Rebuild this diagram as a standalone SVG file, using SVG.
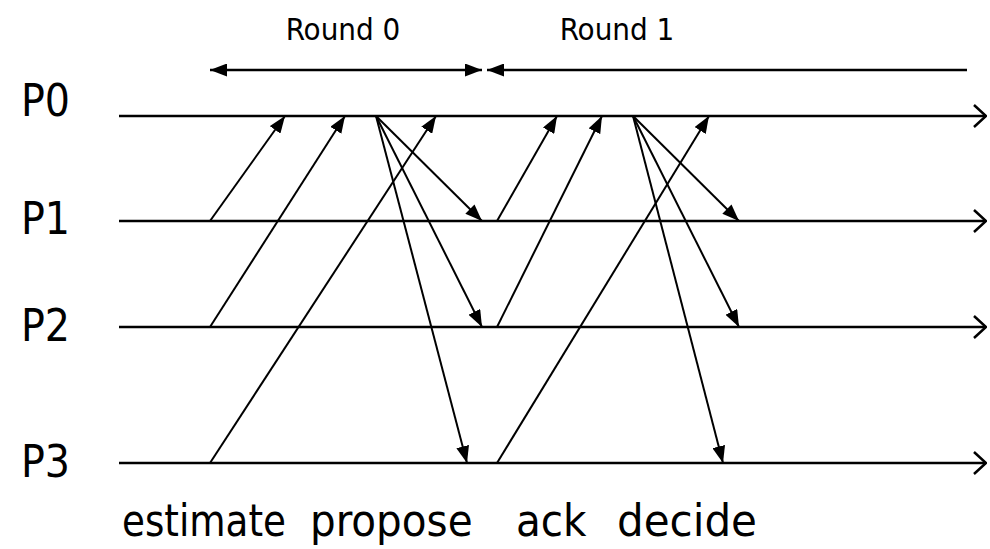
<svg xmlns="http://www.w3.org/2000/svg" width="990" height="549" viewBox="0 0 990 549">
  <style>
    .txt { font-family: "DejaVu Sans Condensed", "DejaVu Sans", sans-serif; fill: #000; }
    .proc { font-size: 44px; }
    .phase { font-size: 45px; }
    .small { font-size: 31px; }
    .time { stroke: #000; stroke-width: 2.5; fill: none; marker-end: url(#open); }
    .msg { stroke: #000; stroke-width: 2; fill: none; marker-end: url(#solid); }
    .span { stroke: #000; stroke-width: 2.5; fill: none; }
  </style>
  <defs>
    <marker id="solid" viewBox="0 0 17 13" refX="17" refY="6.5" markerWidth="17" markerHeight="13" markerUnits="userSpaceOnUse" orient="auto">
      <path d="M0,0 L17,6.5 L0,13 Z" fill="#000"/>
    </marker>
    <marker id="solidStart" viewBox="0 0 17 13" refX="0" refY="6.5" markerWidth="17" markerHeight="13" markerUnits="userSpaceOnUse" orient="auto">
      <path d="M17,0 L0,6.5 L17,13 Z" fill="#000"/>
    </marker>
    <marker id="open" viewBox="0 0 14 24" refX="13" refY="12" markerWidth="14" markerHeight="24" markerUnits="userSpaceOnUse" orient="auto">
      <path d="M1,1 L13,12 L1,23" fill="none" stroke="#000" stroke-width="2.5"/>
    </marker>
  </defs>

  <!-- round spans -->
  <g id="round0">
    <line class="span" x1="210" y1="70" x2="482" y2="70" marker-start="url(#solidStart)" marker-end="url(#solid)"/>
    <text class="txt small" x="343" y="40" text-anchor="middle">Round 0</text>
  </g>
  <g id="round1">
    <line class="span" x1="487" y1="70" x2="967" y2="70" marker-start="url(#solidStart)"/>
    <text class="txt small" x="617" y="40" text-anchor="middle">Round 1</text>
  </g>

  <!-- process timelines -->
  <g id="p0">
    <text class="txt proc" x="21" y="116">P0</text>
    <line class="time" x1="119" y1="116" x2="986" y2="116"/>
  </g>
  <g id="p1">
    <text class="txt proc" x="21" y="234">P1</text>
    <line class="time" x1="119" y1="221" x2="986" y2="221"/>
  </g>
  <g id="p2">
    <text class="txt proc" x="21" y="341">P2</text>
    <line class="time" x1="119" y1="327" x2="986" y2="327"/>
  </g>
  <g id="p3">
    <text class="txt proc" x="21" y="477">P3</text>
    <line class="time" x1="119" y1="463" x2="986" y2="463"/>
  </g>

  <!-- messages -->
  <g id="connectors">
    <!-- estimate -->
    <line class="msg" x1="210" y1="221" x2="285" y2="116"/>
    <line class="msg" x1="210" y1="327" x2="345" y2="116"/>
    <line class="msg" x1="210" y1="463" x2="436" y2="116"/>
    <!-- propose -->
    <line class="msg" x1="376" y1="116" x2="482" y2="221"/>
    <line class="msg" x1="376" y1="116" x2="482" y2="327"/>
    <line class="msg" x1="376" y1="116" x2="467" y2="463"/>
    <!-- ack -->
    <line class="msg" x1="497" y1="221" x2="557" y2="116"/>
    <line class="msg" x1="497" y1="327" x2="602" y2="116"/>
    <line class="msg" x1="497" y1="463" x2="709" y2="116"/>
    <!-- decide -->
    <line class="msg" x1="633" y1="116" x2="739" y2="221"/>
    <line class="msg" x1="633" y1="116" x2="739" y2="327"/>
    <line class="msg" x1="633" y1="116" x2="723" y2="463"/>
  </g>

  <!-- phase labels -->
  <g id="phases">
    <text class="txt phase" x="122" y="536" textLength="164" lengthAdjust="spacingAndGlyphs">estimate</text>
    <text class="txt phase" x="310" y="536">propose</text>
    <text class="txt phase" x="516" y="536">ack</text>
    <text class="txt phase" x="617" y="536" textLength="140" lengthAdjust="spacingAndGlyphs">decide</text>
  </g>
</svg>
